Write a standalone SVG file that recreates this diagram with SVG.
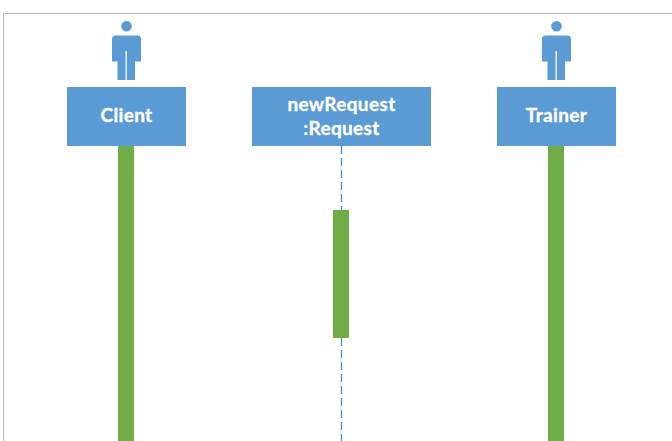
<svg xmlns="http://www.w3.org/2000/svg" width="672" height="441" viewBox="0 0 672 441">
<defs>
<style>
.box{fill:#5b9bd5}
.bar{fill:#70ad47}
.life{stroke:#4a90b8;stroke-width:1.300;stroke-dasharray:8 4;fill:none}
.frame{stroke:#bfbfbf;stroke-width:1;fill:none}
.label{font-family:Lato,"Open Sans","Liberation Sans",sans-serif;font-weight:700;font-size:19px;letter-spacing:.35px;fill:#fff;stroke:#fff;stroke-width:.35px;text-anchor:middle}
</style>
<g id="person">
<circle cx="0" cy="5.300" r="5.300" class="box"/>
<path class="box" d="M-11 14.500H11a3.500 3.500 0 0 1 3.500 3.500V40.500H8.500V59H.3V30H-1V59H-9V40.500H-14.500V18a3.500 3.500 0 0 1 3.500-3.500z"/>
</g>
</defs>
<rect width="672" height="441" fill="#fff"/>
<path class="frame" d="M3.500 441V13.500H672"/>
<g id="connectors">
<line class="life" x1="341.500" y1="146" x2="341.500" y2="210"/>
<line class="life" x1="341.500" y1="338" x2="341.500" y2="441"/>
</g>
<g id="client">
<rect class="bar" x="118" y="146" width="16" height="295"/>
<use href="#person" x="126.500" y="21"/>
<rect class="box" x="67" y="87" width="119" height="59"/>
<text class="label" x="126.500" y="122">Client</text>
</g>
<g id="newRequest">
<rect class="bar" x="333" y="210" width="16" height="128"/>
<rect class="box" x="252" y="87" width="179" height="59"/>
<text class="label" x="341.500" y="110.500">newRequest</text>
<text class="label" x="341.500" y="135">:Request</text>
</g>
<g id="trainer">
<rect class="bar" x="548" y="146" width="16" height="295"/>
<use href="#person" x="556.500" y="21"/>
<rect class="box" x="497" y="87" width="119" height="59"/>
<text class="label" x="556.500" y="122">Trainer</text>
</g>
</svg>
